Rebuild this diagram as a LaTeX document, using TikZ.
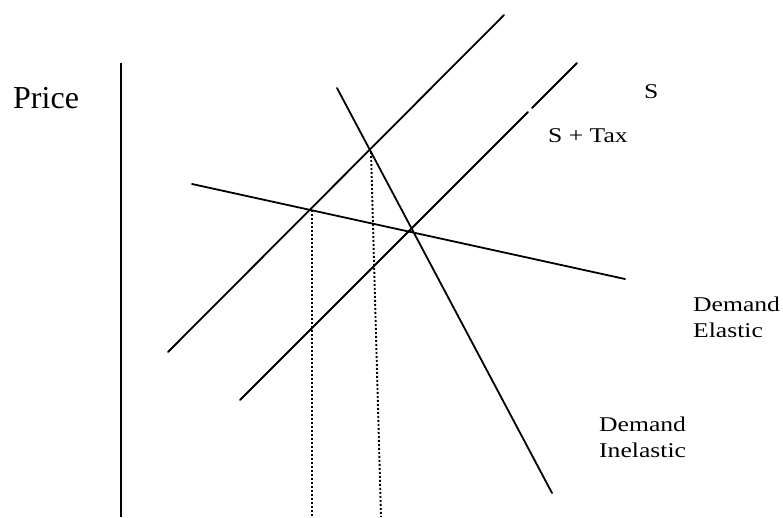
\documentclass[tikz,border=0pt]{standalone}
\usepackage{fontspec}
\setmainfont{Liberation Serif}
\newfontfamily\widefont[FakeStretch=1.22]{Liberation Serif}
\usepackage{tikz}
\usetikzlibrary{positioning}
\definecolor{ink}{HTML}{000000}
\tikzset{
  curve/.style={draw=ink, line width=1.8pt, line cap=round},
  guide/.style={draw=ink, line width=1.9pt, dash pattern=on 1.9pt off 2.1pt},
  lbl/.style={font=\widefont\fontsize{21}{26}\selectfont, text=ink, inner sep=0pt, anchor=base west},
}
\begin{document}
\begin{tikzpicture}[x=1pt, y=-1pt]
\useasboundingbox (0,0) rectangle (783,517);
% price axis
\coordinate (axtop) at (121,63);
\coordinate (axbot) at (121,517);
\draw[curve, line cap=butt] (axtop) -- (axbot);
\node[font=\fontsize{32}{38}\selectfont, inner sep=0pt, anchor=base west] (price) at (13,108) {Price};
% supply and supply + tax
\coordinate (s1a) at (168,352);
\coordinate (s1b) at (504,15);
\coordinate (s2a) at (240,400);
\coordinate (s2g) at (528,112);
\coordinate (s2h) at (532,108);
\coordinate (s2b) at (577,63);
\draw[curve] (s1a) -- (s1b);
\draw[curve] (s2a) -- (s2g);
\draw[curve] (s2h) -- (s2b);
% demand curves
\coordinate (dea) at (192,184);
\coordinate (deb) at (625,279);
\coordinate (dia) at (337,88);
\coordinate (dib) at (552,493);
\draw[curve] (dea) -- (deb);
\draw[curve] (dia) -- (dib);
% quantities
\coordinate (qe) at (312,210);
\coordinate (qi) at (371,152);
\draw[guide] (qe) -- (312,517);
\draw[guide] (qi) -- (381,517);
% labels
\node[lbl] (sl) at (644,98) {S};
\node[lbl] (stax) at (548,142) {S + Tax};
\node[lbl] (el1) at (693,311) {Demand};
\node[lbl] (el2) at (693,337) {Elastic};
\node[lbl] (in1) at (599,431) {Demand};
\node[lbl] (in2) at (599,457) {Inelastic};
\end{tikzpicture}
\end{document}
